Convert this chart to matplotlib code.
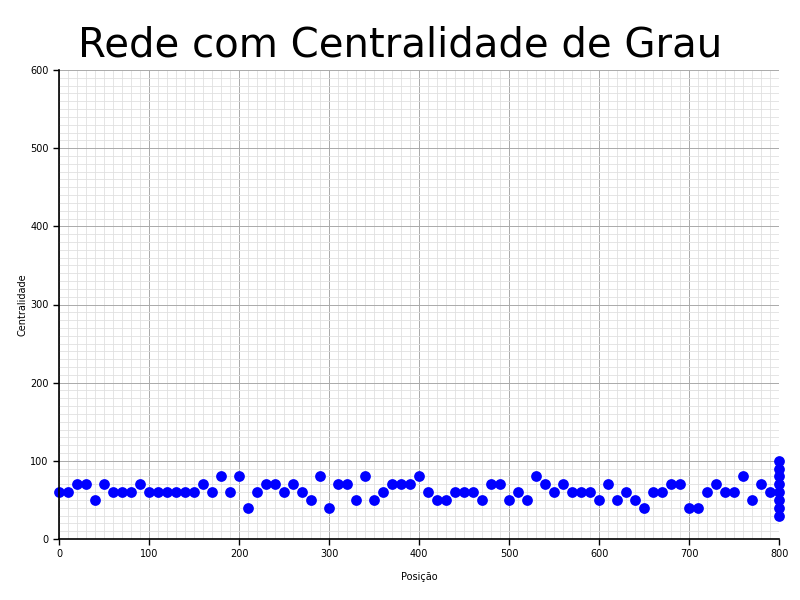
import matplotlib
matplotlib.use("Agg")
import matplotlib.pyplot as plt
from matplotlib.ticker import MultipleLocator

positions = list(range(0, 800, 10)) + [800] * 8
centrality = [
    60, 60, 70, 70, 50, 70, 60, 60, 60, 70,
    60, 60, 60, 60, 60, 60, 70, 60, 80, 60,
    80, 40, 60, 70, 70, 60, 70, 60, 50, 80,
    40, 70, 70, 50, 80, 50, 60, 70, 70, 70,
    80, 60, 50, 50, 60, 60, 60, 50, 70, 70,
    50, 60, 50, 80, 70, 60, 70, 60, 60, 60,
    50, 70, 50, 60, 50, 40, 60, 60, 70, 70,
    40, 40, 60, 70, 60, 60, 80, 50, 70, 60,
    30, 40, 50, 60, 70, 80, 90, 100,
]

title = "Rede com Centralidade de Grau"
xlabel = "Posição"
ylabel = "Centralidade"

fig = plt.figure(figsize=(8, 6), dpi=100)
ax = fig.add_axes([0.074, 0.1017, 0.9, 0.7816])

ax.scatter(positions, centrality, s=60, color="#0000ff", zorder=3, clip_on=False, linewidths=0)

ax.set_xlim(0, 800)
ax.set_ylim(0, 600)
ax.xaxis.set_major_locator(MultipleLocator(100))
ax.yaxis.set_major_locator(MultipleLocator(100))
ax.xaxis.set_minor_locator(MultipleLocator(10))
ax.yaxis.set_minor_locator(MultipleLocator(10))
ax.grid(which="major", color="#aaaaaa", linewidth=0.7)
ax.grid(which="minor", color="#e0e0e0", linewidth=0.6)
ax.set_axisbelow(True)
ax.tick_params(which="minor", length=0)
ax.tick_params(which="major", labelsize=7, length=4, width=1)

for side in ("top", "right"):
    ax.spines[side].set_visible(False)
for side in ("left", "bottom"):
    ax.spines[side].set_linewidth(1.2)
    ax.spines[side].set_zorder(4)

ax.set_xlabel(xlabel, fontsize=7, labelpad=9)
ax.set_ylabel(ylabel, fontsize=7, labelpad=2)
fig.suptitle(title, fontsize=29, x=0.5, y=0.957, va="top")

fig.savefig("out.png", dpi=100)
